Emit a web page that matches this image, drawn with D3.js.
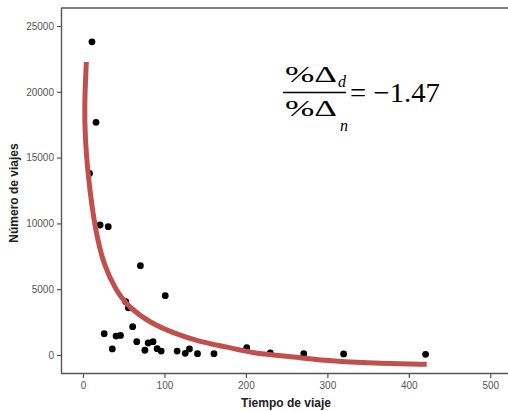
<!DOCTYPE html>
<html>
<head>
<meta charset="utf-8">
<script src="https://cdn.jsdelivr.net/npm/d3@7"></script>
<style>
  body { margin: 0; background: #fff; }
  svg { display: block; }
</style>
</head>
<body>
<svg id="chart" width="508" height="411"></svg>
<script>
// Observed points: travel time (x) and number of trips (y)
const tiempo = [11, 16, 8, 21, 31, 70.5, 101, 52.5, 55.7, 61, 26, 40.6, 46, 36, 66, 76, 80, 86, 91, 96, 115.6, 125.5, 130.7, 140.6, 160.8, 201, 230, 271, 320, 420.6];
const viajes = [23800, 17680, 13800, 9880, 9750, 6790, 4510, 4050, 3590, 2150, 1620, 1440, 1490, 460, 1010, 360, 910, 1010, 480, 300, 300, 130, 460, 100, 100, 560, 150, 100, 80, 50];

// Fitted curve
const curvaX = [4.1, 1.6, 2.8, 5.9, 11.4, 15.8, 19.1, 25, 39.8, 55.8, 82.8, 111, 144, 177.5, 206, 259, 308, 366, 422];
const curvaY = [22265, 18845, 16340, 13870, 11060, 9500, 8510, 6991, 4939, 3648, 2432, 1672, 988, 608, 152, -152, -494, -646, -707];

const xTicks = [0, 100, 200, 300, 400, 500];
const yTicks = [0, 5000, 10000, 15000, 20000, 25000];

const svg = d3.select("#chart");
const mLeft = 61, mRight = 508, mTop = 8, mBottom = 373;

const x = d3.scaleLinear().domain([-27, 523]).range([mLeft, mRight + 1]);
const y = d3.scaleLinear().domain([-1368, 26368]).range([mBottom, mTop]);

const axisColor = "#555";

// frame top line
svg.append("line").attr("x1", mLeft).attr("x2", 508).attr("y1", mTop).attr("y2", mTop)
  .attr("stroke", axisColor).attr("stroke-width", 1.4);

const xAxis = svg.append("g").attr("transform", `translate(0,${mBottom})`)
  .call(d3.axisBottom(x).tickValues(xTicks).tickSize(5).tickPadding(4).tickSizeOuter(0));
const yAxis = svg.append("g").attr("transform", `translate(${mLeft},0)`)
  .call(d3.axisLeft(y).tickValues(yTicks).tickSize(4).tickPadding(3).tickSizeOuter(0).tickFormat(d3.format("d")));

[xAxis, yAxis].forEach(g => {
  g.select(".domain").attr("stroke", axisColor).attr("stroke-width", 1.4);
  g.selectAll(".tick line").attr("stroke", axisColor).attr("stroke-width", 1.2);
  g.selectAll(".tick text").attr("fill", "#555").attr("font-family", "Liberation Sans, Arial, sans-serif").attr("font-size", 10);
});
xAxis.select(".domain").attr("d", `M${mLeft},0.5H508`);
yAxis.select(".domain").attr("d", `M0.5,${mTop}V${mBottom}`);

// points
svg.append("g").selectAll("circle").data(tiempo.map((t, i) => [t, viajes[i]]))
  .join("circle")
  .attr("cx", d => x(d[0])).attr("cy", d => y(d[1])).attr("r", 3.4)
  .attr("fill", "#000");

// curve
const line = d3.line().x(d => x(d[0])).y(d => y(d[1])).curve(d3.curveBasis);
svg.append("path").datum(curvaX.map((c, i) => [c, curvaY[i]]))
  .attr("d", line).attr("fill", "none").attr("stroke", "#c0504d").attr("stroke-width", 5);

// axis titles
svg.append("text").attr("x", 286).attr("y", 407).attr("text-anchor", "middle")
  .attr("font-family", "Liberation Sans, Arial, sans-serif").attr("font-weight", "bold").attr("font-size", 12)
  .attr("fill", "#222").text("Tiempo de viaje");
svg.append("text").attr("transform", "translate(18,193) rotate(-90)").attr("text-anchor", "middle")
  .attr("font-family", "Liberation Sans, Arial, sans-serif").attr("font-weight", "bold").attr("font-size", 12)
  .attr("fill", "#222").text("Número de viajes");

// formula annotation
const f = svg.append("g").attr("font-family", "Liberation Serif, Times New Roman, serif").attr("fill", "#000");
f.append("text").attr("x", 285).attr("y", 82).attr("font-size", 24)
  .attr("textLength", 52).attr("lengthAdjust", "spacingAndGlyphs").text("%Δ");
f.append("text").attr("x", 338).attr("y", 87).attr("font-size", 16).attr("font-style", "italic").text("d");
f.append("line").attr("x1", 283).attr("x2", 346).attr("y1", 92.5).attr("y2", 92.5).attr("stroke", "#000").attr("stroke-width", 1.3);
f.append("text").attr("x", 285).attr("y", 116).attr("font-size", 24)
  .attr("textLength", 52).attr("lengthAdjust", "spacingAndGlyphs").text("%Δ");
f.append("text").attr("x", 340).attr("y", 131).attr("font-size", 16).attr("font-style", "italic").text("n");
f.append("text").attr("x", 350).attr("y", 102).attr("font-size", 28)
  .attr("textLength", 90).attr("lengthAdjust", "spacingAndGlyphs").text("= \u22121.47");
</script>
</body>
</html>
